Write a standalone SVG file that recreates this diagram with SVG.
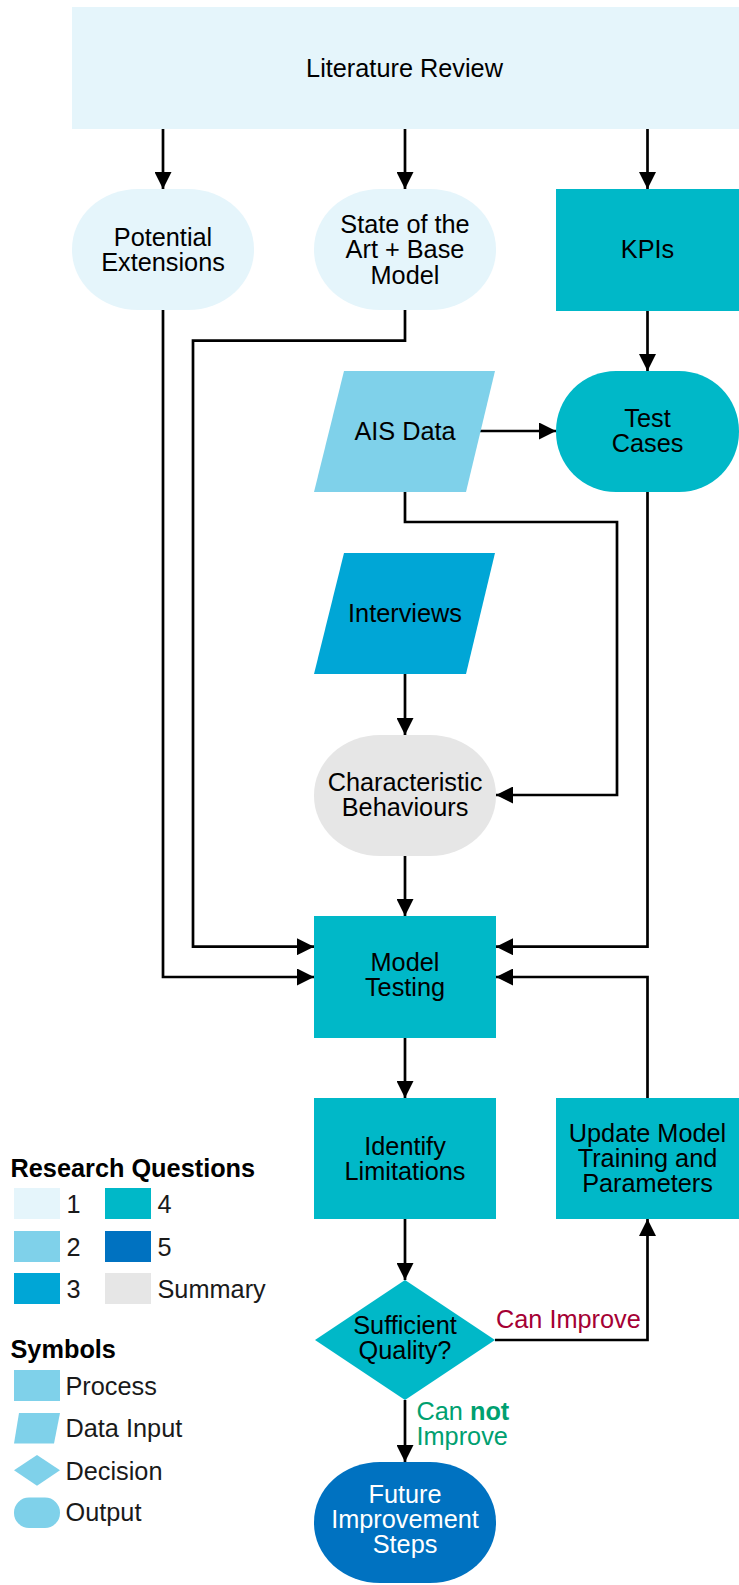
<svg xmlns="http://www.w3.org/2000/svg" width="739" height="1585" viewBox="0 0 739 1585">
<style>
text{font-family:"Liberation Sans",Arial,sans-serif;font-size:25.3px;}
.t{fill:#000;text-anchor:middle;}
.w{fill:#fff;text-anchor:middle;}
.lg{fill:#1a1a1a;}
.h{fill:#000;font-weight:bold;}
.c1{fill:#E5F5FB;}
.c2{fill:#7FD1EA;}
.c3{fill:#00A6D6;}
.c4{fill:#00B8C8;}
.c5{fill:#0072C1;}
.cs{fill:#E6E6E6;}
.edge{fill:none;stroke:#000;stroke-width:2.7;marker-end:url(#ah);}
</style>
<defs>
<marker id="ah" markerUnits="userSpaceOnUse" markerWidth="17" markerHeight="17" refX="17" refY="8.5" orient="auto">
<path d="M0,0 L17,8.5 L0,17 z" fill="#000"/>
</marker>
</defs>

<g id="connectors">
<path class="edge" d="M163,129 V189"/>
<path class="edge" d="M405,129 V189"/>
<path class="edge" d="M647.5,129 V189"/>
<path class="edge" d="M647.5,311 V371"/>
<path class="edge" d="M480,431 H556"/>
<path class="edge" d="M405,310 V340.7 H193 V946.7 H314"/>
<path class="edge" d="M163,310 V977 H314"/>
<path class="edge" d="M405,492 V522 H617 V795 H496"/>
<path class="edge" d="M405,674 V735"/>
<path class="edge" d="M405,856 V916"/>
<path class="edge" d="M647.5,492 V946.7 H496"/>
<path class="edge" d="M647.5,1098 V977 H496"/>
<path class="edge" d="M405,1038 V1098"/>
<path class="edge" d="M405,1219 V1280"/>
<path class="edge" d="M495,1340 H647.5 V1219"/>
<path class="edge" d="M405,1400 V1462"/>
<text x="496" y="1327.5" fill="#A50034">Can Improve</text>
<text x="416.5" y="1420" fill="#00A070">Can <tspan font-weight="bold">not</tspan></text>
<text x="416.5" y="1445" fill="#00A070">Improve</text>
</g>

<g id="literature-review">
<rect class="c1" x="72" y="7" width="667" height="122"/>
<text class="t" x="404.5" y="77">Literature Review</text>
</g>
<g id="potential-extensions">
<rect class="c1" x="72" y="189" width="182" height="121" rx="66" ry="60"/>
<text class="t" x="163" y="245.7">Potential</text>
<text class="t" x="163" y="270.7">Extensions</text>
</g>
<g id="state-of-the-art">
<rect class="c1" x="314" y="189" width="182" height="121" rx="66" ry="60"/>
<text class="t" x="405" y="232.5">State of the</text>
<text class="t" x="405" y="258">Art + Base</text>
<text class="t" x="405" y="283.5">Model</text>
</g>
<g id="kpis">
<rect class="c4" x="556" y="189" width="183" height="122"/>
<text class="t" x="647.5" y="258.2">KPIs</text>
</g>
<g id="ais-data">
<polygon class="c2" points="344,371 495,371 466,492 314,492"/>
<text class="t" x="405" y="439.5">AIS Data</text>
</g>
<g id="test-cases">
<rect class="c4" x="556" y="371" width="183" height="121" rx="60" ry="60"/>
<text class="t" x="647.5" y="427.2">Test</text>
<text class="t" x="647.5" y="452.2">Cases</text>
</g>
<g id="interviews">
<polygon class="c3" points="344,553 495,553 466,674 314,674"/>
<text class="t" x="405" y="622">Interviews</text>
</g>
<g id="characteristic-behaviours">
<rect class="cs" x="314" y="735" width="182" height="121" rx="66" ry="60"/>
<text class="t" x="405" y="791">Characteristic</text>
<text class="t" x="405" y="816">Behaviours</text>
</g>
<g id="model-testing">
<rect class="c4" x="314" y="916" width="182" height="122"/>
<text class="t" x="405" y="970.5">Model</text>
<text class="t" x="405" y="995.5">Testing</text>
</g>
<g id="identify-limitations">
<rect class="c4" x="314" y="1098" width="182" height="121"/>
<text class="t" x="405" y="1155">Identify</text>
<text class="t" x="405" y="1180">Limitations</text>
</g>
<g id="update-model">
<rect class="c4" x="556" y="1098" width="183" height="121"/>
<text class="t" x="647.5" y="1141.7">Update Model</text>
<text class="t" x="647.5" y="1166.7">Training and</text>
<text class="t" x="647.5" y="1191.7">Parameters</text>
</g>
<g id="sufficient-quality">
<polygon class="c4" points="405,1280 495,1340 405,1400 315,1340"/>
<text class="t" x="405" y="1333.5">Sufficient</text>
<text class="t" x="405" y="1359">Quality?</text>
</g>
<g id="future-improvement-steps">
<rect class="c5" x="314" y="1462" width="182" height="121" rx="66" ry="60"/>
<text class="w" x="405" y="1503">Future</text>
<text class="w" x="405" y="1528">Improvement</text>
<text class="w" x="405" y="1553">Steps</text>
</g>

<g id="legend">
<text class="h" x="10.5" y="1176.7">Research Questions</text>
<rect class="c1" x="14" y="1188" width="46" height="31"/>
<text class="lg" x="66.5" y="1212.7">1</text>
<rect class="c4" x="105" y="1188" width="46" height="31"/>
<text class="lg" x="157.5" y="1212.7">4</text>
<rect class="c2" x="14" y="1231" width="46" height="31"/>
<text class="lg" x="66.5" y="1255.5">2</text>
<rect class="c5" x="105" y="1231" width="46" height="31"/>
<text class="lg" x="157.5" y="1255.5">5</text>
<rect class="c3" x="14" y="1273" width="46" height="31"/>
<text class="lg" x="66.5" y="1297.5">3</text>
<rect class="cs" x="105" y="1273" width="46" height="31"/>
<text class="lg" x="157.5" y="1297.5">Summary</text>
<text class="h" x="10.5" y="1358.3">Symbols</text>
<rect class="c2" x="14" y="1370" width="46" height="31"/>
<text class="lg" x="65.5" y="1394.6">Process</text>
<polygon class="c2" points="19,1413 60,1413 54,1443.5 14,1443.5"/>
<text class="lg" x="65.5" y="1436.5">Data Input</text>
<polygon class="c2" points="37,1455 60,1470.3 37,1485.7 14,1470.3"/>
<text class="lg" x="65.5" y="1479.6">Decision</text>
<rect class="c2" x="14" y="1497.5" width="46" height="30.5" rx="15" ry="15"/>
<text class="lg" x="65.5" y="1521">Output</text>
</g>
</svg>
